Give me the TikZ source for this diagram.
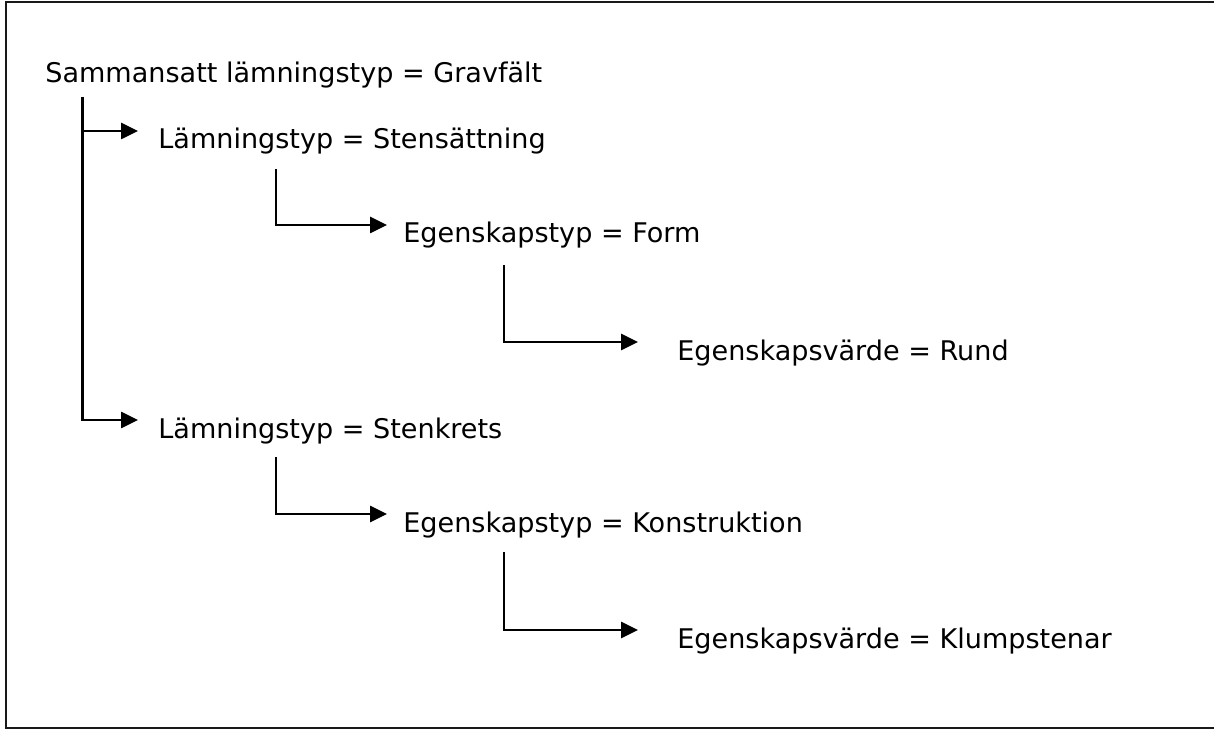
\documentclass[tikz,border=0pt]{standalone}
\usepackage{fontspec}
\setmainfont{DejaVu Sans}
\usetikzlibrary{arrows.meta}

\begin{document}
\begin{tikzpicture}[
    >={Triangle[length=3.4mm, width=3.2mm]},
    item/.style={anchor=base west, inner sep=0pt, font=\fontsize{15.4pt}{18pt}\selectfont},
    branch/.style={->, line width=1.5pt, draw=black},
    frame/.style={line width=1.5pt, draw=black!90},
]
    \useasboundingbox (0,0) rectangle (24.28,14.6);

    % Frame (open to the right)
    \draw[frame] (24.4,14.56) -- (0.12,14.56) -- (0.12,0.04) -- (24.4,0.04);

    % Root
    \node[item] (root) at (0.9,12.94) {Sammansatt lämningstyp = Gravfält};

    % First branch
    \node[item] (lt1) at (3.16,11.62) {Lämningstyp = Stensättning};
    \node[item] (eg1) at (8.06,9.74) {Egenskapstyp = Form};
    \node[item] (ev1) at (13.54,7.4) {Egenskapsvärde = Rund};

    % Second branch
    \node[item] (lt2) at (3.16,5.84) {Lämningstyp = Stenkrets};
    \node[item] (eg2) at (8.06,3.96) {Egenskapstyp = Konstruktion};
    \node[item] (ev2) at (13.54,1.64) {Egenskapsvärde = Klumpstenar};

    % Connectors
    \draw[branch] ([xshift=7.5mm,yshift=-2.8mm]root.base west) |- ([xshift=-4mm,yshift=3.6mm]lt1.base west);
    \draw[branch] ([xshift=7.5mm,yshift=-2.8mm]root.base west) |- ([xshift=-4mm,yshift=3.6mm]lt2.base west);

    \draw[branch] ([xshift=23.6mm,yshift=-4mm]lt1.base west) |- ([xshift=-3.2mm,yshift=3.6mm]eg1.base west);
    \draw[branch] ([xshift=20.2mm,yshift=-4.4mm]eg1.base west) |- ([xshift=-7.8mm,yshift=3.6mm]ev1.base west);

    \draw[branch] ([xshift=23.6mm,yshift=-3.8mm]lt2.base west) |- ([xshift=-3.2mm,yshift=3.6mm]eg2.base west);
    \draw[branch] ([xshift=20.2mm,yshift=-4mm]eg2.base west) |- ([xshift=-7.8mm,yshift=3.6mm]ev2.base west);

\end{tikzpicture}
\end{document}
